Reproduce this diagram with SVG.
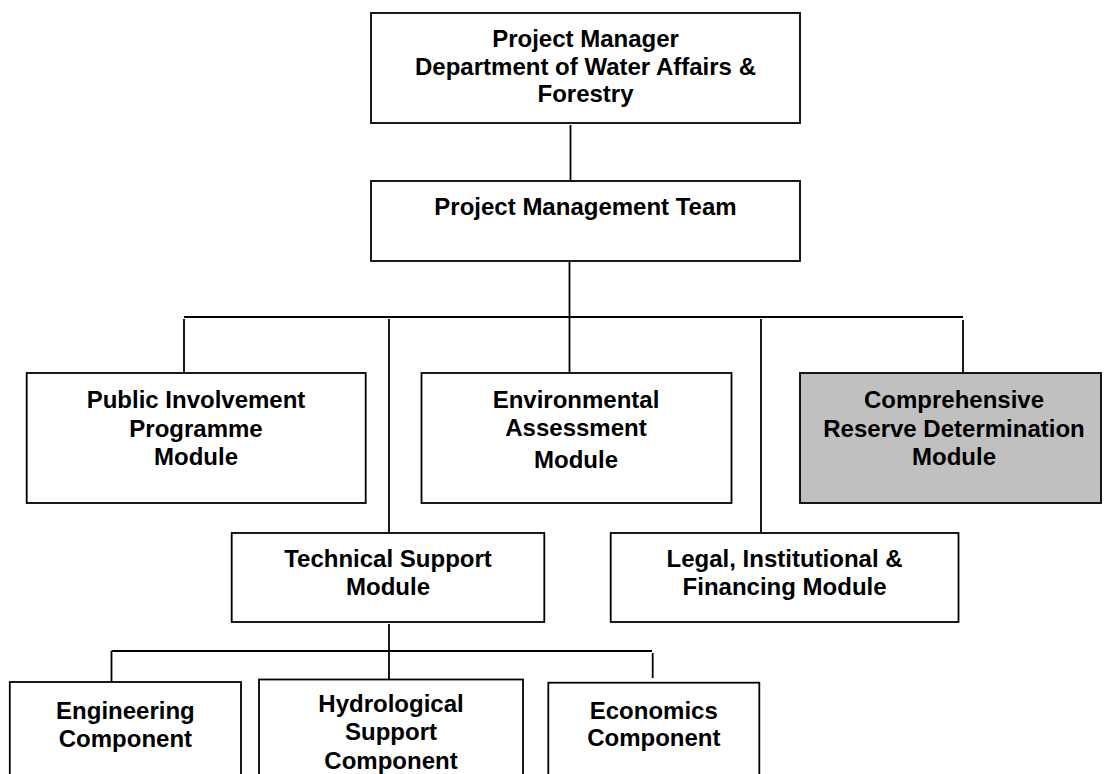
<svg xmlns="http://www.w3.org/2000/svg" width="1104" height="774" viewBox="0 0 1104 774">
<style>
.box{fill:#fff;stroke:#000;stroke-width:1.8}
.grey{fill:#c0c0c0}
.ln{stroke:#000;stroke-width:1.8;fill:none}
text{font-family:"Liberation Sans",Arial,sans-serif;font-weight:bold;font-size:24px;text-anchor:middle;fill:#000}
</style>
<rect width="1104" height="774" fill="#fff"/>
<g id="connectors">
<line class="ln" x1="570.5" y1="125" x2="570.5" y2="181"/>
<line class="ln" x1="569.5" y1="261" x2="569.5" y2="373"/>
<line class="ln" x1="184" y1="317" x2="963" y2="317"/>
<line class="ln" x1="184" y1="319" x2="184" y2="373"/>
<line class="ln" x1="389" y1="319" x2="389" y2="533"/>
<line class="ln" x1="761" y1="319" x2="761" y2="533"/>
<line class="ln" x1="963" y1="320" x2="963" y2="373"/>
<line class="ln" x1="389" y1="624" x2="389" y2="679"/>
<line class="ln" x1="111.5" y1="651" x2="652" y2="651"/>
<line class="ln" x1="111.5" y1="651" x2="111.5" y2="682"/>
<line class="ln" x1="652.7" y1="653" x2="652.7" y2="678"/>
</g>
<g id="pm">
<rect class="box" x="371" y="13" width="429" height="110"/>
<text x="585.5" y="47">Project Manager</text>
<text x="585.5" y="74.5">Department of Water Affairs &amp;</text>
<text x="585.5" y="102">Forestry</text>
</g>
<g id="pmt">
<rect class="box" x="371" y="181" width="429" height="80"/>
<text x="585.5" y="215">Project Management Team</text>
</g>
<g id="pip">
<rect class="box" x="26.7" y="373" width="339" height="130"/>
<text x="196" y="408">Public Involvement</text>
<text x="196" y="436.5">Programme</text>
<text x="196" y="464.5">Module</text>
</g>
<g id="env">
<rect class="box" x="421.5" y="373" width="310" height="130"/>
<text x="576" y="408">Environmental</text>
<text x="576" y="435.5">Assessment</text>
<text x="576" y="468">Module</text>
</g>
<g id="crd">
<rect class="box grey" x="800" y="373" width="301" height="130"/>
<text x="954" y="408">Comprehensive</text>
<text x="954" y="436.5">Reserve Determination</text>
<text x="954" y="464.5">Module</text>
</g>
<g id="tsm">
<rect class="box" x="231.7" y="533" width="312.6" height="89"/>
<text x="388" y="567">Technical Support</text>
<text x="388" y="595">Module</text>
</g>
<g id="lif">
<rect class="box" x="610.7" y="533" width="347.8" height="89"/>
<text x="784.6" y="567">Legal, Institutional &amp;</text>
<text x="784.6" y="595">Financing Module</text>
</g>
<g id="eng">
<rect class="box" x="9.8" y="682" width="231.2" height="110"/>
<text x="125.4" y="719">Engineering</text>
<text x="125.4" y="747">Component</text>
</g>
<g id="hyd">
<rect class="box" x="259" y="679.5" width="264" height="110"/>
<text x="391" y="712">Hydrological</text>
<text x="391" y="739.5">Support</text>
<text x="391" y="769">Component</text>
</g>
<g id="eco">
<rect class="box" x="548.3" y="682.7" width="211" height="110"/>
<text x="653.8" y="719">Economics</text>
<text x="653.8" y="746">Component</text>
</g>
</svg>
